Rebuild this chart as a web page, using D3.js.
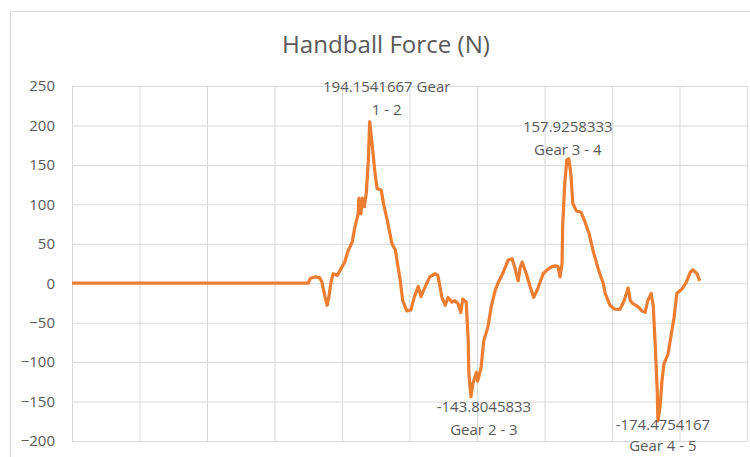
<!DOCTYPE html>
<html>
<head>
<meta charset="utf-8">
<script src="https://cdn.jsdelivr.net/npm/d3@7"></script>
<style>
  body { margin: 0; background: #fff; }
  text { font-family: "Open Sans", "Noto Sans", sans-serif; fill: #595959; }
</style>
</head>
<body>
<div id="chart"></div>
<script>
// sample index of each recorded point (category axis)
var samples = [0, 350, 353, 360, 367, 370, 375, 378, 381, 384, 387, 393, 397, 404, 409, 415, 419, 424, 425, 428,
  430, 433, 436, 439, 441, 444, 449, 452, 458, 462, 468, 474, 479, 486, 490, 496, 502, 507, 513, 517,
  523, 530, 538, 542, 548, 553, 557, 563, 567, 572, 576, 579, 584, 587, 588, 591, 594, 599, 601, 606,
  610, 616, 621, 627, 631, 639, 646, 652, 656, 661, 664, 667, 673, 679, 684, 690, 698, 704, 711, 716,
  720, 723, 726, 727, 730, 733, 736, 739, 742, 747, 754, 759, 766, 772, 779, 782, 787, 790, 797, 804,
  812, 818, 824, 827, 831, 839, 844, 849, 853, 858, 861, 864, 867, 868, 871, 874, 877, 883, 887, 892,
  896, 904, 910, 916, 920, 926, 930];

// handball force in N
var force = [0, 0, 6, 8, 7, 2, -18, -28, -15, 3, 12, 10, 16, 27, 41, 52, 71, 88, 108, 88,
  108, 97, 114, 156, 205, 181, 139, 120, 118, 99, 76, 50, 42, 5, -22, -35, -34, -18, -4, -17,
  -5, 8, 12, 10, -18, -28, -18, -24, -22, -26, -37, -20, -24, -73, -115, -143.8, -127, -113, -124, -107,
  -73, -56, -30, -9, 0, 14, 29, 31, 20, 3, 20, 27, 12, -5, -18, -7, 12, 17, 21, 22,
  21, 8, 25, 75, 126, 156, 157.9, 139, 101, 92, 90, 80, 63, 41, 20, 12, 0, -13, -28, -33,
  -33, -22, -6, -22, -26, -30, -35, -37, -22, -13, -28, -77, -136, -174.5, -158, -124, -102, -90, -69, -43,
  -13, -7, 1, 14, 17, 12, 3];

var yTicks = [-200, -150, -100, -50, 0, 50, 100, 150, 200, 250];
var xTicks = [0, 100, 200, 300, 400, 500, 600, 700, 800, 900, 1000];

// data labels at the gear changes
var labelSamples = [441, 591, 736, 868];
var labelValues = [205, -143.8, 157.9, -174.5];
var labelLines = [["194.1541667 Gear", "1 - 2"], ["-143.8045833", "Gear 2 - 3"],
  ["157.9258333", "Gear 3 - 4"], ["-174.4754167", "Gear 4 - 5"]];

var svgWidth = 750;
var svgHeight = 457;

var margin = { top: 86, right: 3, bottom: 16, left: 72 };
var width = svgWidth - margin.left - margin.right;
var height = svgHeight - margin.top - margin.bottom;

var svg = d3.select("#chart")
  .append("svg")
  .attr("width", svgWidth)
  .attr("height", svgHeight);

// chart area border
svg.append("path")
  .attr("d", "M10.5," + svgHeight + "V11.5H" + svgWidth)
  .attr("fill", "none")
  .attr("stroke", "#d9d9d9");

svg.append("text")
  .attr("x", 386)
  .attr("y", 53)
  .attr("text-anchor", "middle")
  .attr("font-size", "23px")
  .attr("textLength", 208)
  .attr("lengthAdjust", "spacingAndGlyphs")
  .text("Handball Force (N)");

var chartGroup = svg.append("g")
  .attr("transform", `translate(${margin.left}, ${margin.top})`);

var xScale = d3.scaleLinear()
  .domain([0, 1000])
  .range([0, width]);

var yScale = d3.scaleLinear()
  .domain([-200, 250])
  .range([height, 0]);

// horizontal gridlines + tick labels
var leftAxis = d3.axisLeft(yScale)
  .tickValues(yTicks)
  .tickSize(-width)
  .tickPadding(17);

chartGroup.append("g")
  .attr("class", "y-axis")
  .call(leftAxis)
  .call(g => g.select(".domain").remove())
  .call(g => g.selectAll("line").attr("stroke", "#d9d9d9"))
  .call(g => g.selectAll("text")
    .attr("font-size", "15px")
    .attr("fill", "#595959")
    .attr("font-family", "Open Sans"));

// vertical gridlines
var bottomAxis = d3.axisBottom(xScale)
  .tickValues(xTicks)
  .tickSize(-height)
  .tickFormat("");

chartGroup.append("g")
  .attr("transform", `translate(0, ${height})`)
  .call(bottomAxis)
  .call(g => g.select(".domain").remove())
  .call(g => g.selectAll("line").attr("stroke", "#d9d9d9"));

var points = samples.map((s, i) => [s, force[i]]);

var line = d3.line()
  .x(d => xScale(d[0]))
  .y(d => yScale(d[1]));

chartGroup.append("path")
  .datum(points)
  .attr("d", line)
  .attr("fill", "none")
  .attr("stroke", "#ed7d31")
  .attr("stroke-width", 3.2)
  .attr("stroke-linejoin", "round");

// label offsets from their point
var labelDx = [17, 13, -1, 5];
var labelDy = [-30, 15, -27, 9];
var labelGap = [23, 23, 23, 21];

labelLines.forEach(function(lines, i) {
  var t = chartGroup.append("text")
    .attr("text-anchor", "middle")
    .attr("font-size", "15px")
    .attr("transform", `translate(${xScale(labelSamples[i]) + labelDx[i]}, ${yScale(labelValues[i]) + labelDy[i]})`);
  lines.forEach(function(l, j) {
    t.append("tspan")
      .attr("x", 0)
      .attr("dy", j == 0 ? 0 : labelGap[i])
      .text(l);
  });
});
</script>
</body>
</html>
